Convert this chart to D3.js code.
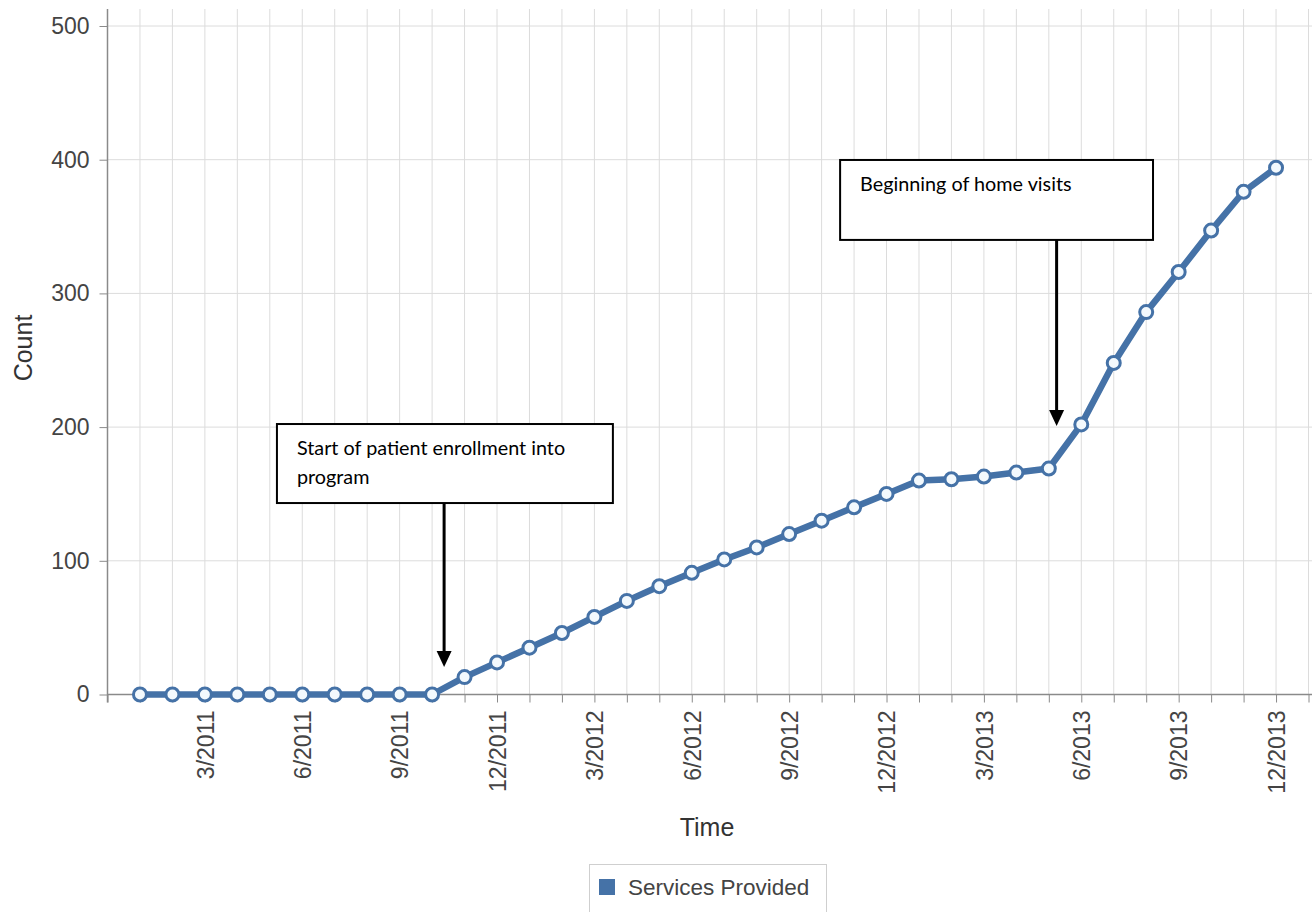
<!DOCTYPE html>
<html>
<head>
<meta charset="utf-8">
<script src="https://cdn.jsdelivr.net/npm/d3@7"></script>
<style>
  html, body { margin: 0; padding: 0; background: #ffffff; }
  svg { display: block; }
</style>
</head>
<body>
<svg id="chart" width="1312" height="912"></svg>
<script>
// Monthly categories, January 2011 through December 2013
const months = [
  "1/2011", "2/2011", "3/2011", "4/2011", "5/2011", "6/2011",
  "7/2011", "8/2011", "9/2011", "10/2011", "11/2011", "12/2011",
  "1/2012", "2/2012", "3/2012", "4/2012", "5/2012", "6/2012",
  "7/2012", "8/2012", "9/2012", "10/2012", "11/2012", "12/2012",
  "1/2013", "2/2013", "3/2013", "4/2013", "5/2013", "6/2013",
  "7/2013", "8/2013", "9/2013", "10/2013", "11/2013", "12/2013"
];

// Cumulative count of services provided per month
const servicesProvided = [
  0, 0, 0, 0, 0, 0, 0, 0, 0, 0, 13, 24,
  35, 46, 58, 70, 81, 91, 101, 110, 120, 130, 140, 150,
  160, 161, 163, 166, 169, 202, 248, 286, 316, 347, 376, 394
];

// Month labels shown on the x axis
const xTickLabels = [
  "3/2011", "6/2011", "9/2011", "12/2011", "3/2012", "6/2012",
  "9/2012", "12/2012", "3/2013", "6/2013", "9/2013", "12/2013"
];

const yTickValues = [0, 100, 200, 300, 400, 500];

// Callouts, anchored in data units (month index, count)
const annotationText = [
  ["Start of patient enrollment into", "program"],
  ["Beginning of home visits"]
];
const annotationArrowMonth = [9.37, 28.24];
const annotationArrowTip = [20.6, 200.8];
const annotationBoxMonths = [[4.22, 14.57], [21.57, 31.21]];
const annotationBoxCounts = [[143.2, 202.3], [340, 399.8]];

const seriesName = "Services Provided";

// ---- layout ----
const W = 1312, H = 912;
const plotTop = 9;
const plotRight = W;
const lineColor = "#4572a7";
const axisColor = "#8a8a8a";
const gridColor = "#dcdcdc";
const labelFont = "'Liberation Sans', Arial, sans-serif";

const svg = d3.select("#chart");

const x = d3.scaleLinear().domain([-1, months.length]).range([107.5, 1308.5]);
const y = d3.scaleLinear().domain([0, 500]).range([694.5, 26]);

const monthIdx = d3.range(-1, months.length + 1);

// gridlines
const grid = svg.append("g").attr("class", "grid");
grid.selectAll("line.v")
  .data(monthIdx.filter(i => i >= 0))
  .join("line")
  .attr("class", "v")
  .attr("x1", d => x(d)).attr("x2", d => x(d))
  .attr("y1", plotTop).attr("y2", y(0))
  .attr("stroke", gridColor).attr("stroke-width", 1);
grid.selectAll("line.h")
  .data(yTickValues.filter(v => v > 0))
  .join("line")
  .attr("class", "h")
  .attr("x1", x(-1)).attr("x2", plotRight)
  .attr("y1", d => y(d)).attr("y2", d => y(d))
  .attr("stroke", gridColor).attr("stroke-width", 1);

// y axis
const yAxis = svg.append("g")
  .attr("transform", `translate(${x(-1)},0)`)
  .call(d3.axisLeft(y).tickValues(yTickValues).tickSize(8).tickPadding(10).tickSizeOuter(0));
yAxis.select(".domain").attr("d", `M0,${plotTop}V${y(0) + 8}`).attr("stroke", axisColor).attr("stroke-width", 1.5);
yAxis.selectAll(".tick line").attr("stroke", axisColor);
yAxis.selectAll(".tick text")
  .attr("font-family", labelFont).attr("font-size", 23).attr("fill", "#444");

// x axis
const labelSet = new Set(xTickLabels);
const xAxis = svg.append("g")
  .attr("transform", `translate(0,${y(0)})`)
  .call(d3.axisBottom(x)
    .tickValues(monthIdx)
    .tickSize(8)
    .tickSizeOuter(0)
    .tickFormat(i => (i >= 0 && i < months.length && labelSet.has(months[i])) ? months[i] : ""));
xAxis.select(".domain").attr("d", `M${x(-1)},0H${plotRight}`).attr("stroke", axisColor).attr("stroke-width", 1.5);
xAxis.selectAll(".tick line").attr("stroke", axisColor);
xAxis.selectAll(".tick text")
  .attr("font-family", labelFont).attr("font-size", 23).attr("fill", "#444")
  .attr("text-anchor", "end")
  .attr("x", 0).attr("y", 0)
  .attr("dy", "0.36em")
  .attr("transform", "translate(0,16) rotate(-90)");

// axis titles
svg.append("text")
  .attr("x", 707).attr("y", 836)
  .attr("text-anchor", "middle")
  .attr("font-family", labelFont).attr("font-size", 25).attr("fill", "#333")
  .text("Time");
svg.append("text")
  .attr("transform", "translate(32,348) rotate(-90)")
  .attr("text-anchor", "middle")
  .attr("font-family", labelFont).attr("font-size", 25).attr("fill", "#333")
  .text("Count");

// series line
const line = d3.line().x((d, i) => x(i)).y(d => y(d));
svg.append("path")
  .datum(servicesProvided)
  .attr("d", line)
  .attr("fill", "none")
  .attr("stroke", lineColor)
  .attr("stroke-width", 6.5)
  .attr("stroke-linejoin", "round");

svg.append("g").selectAll("circle")
  .data(servicesProvided)
  .join("circle")
  .attr("cx", (d, i) => x(i))
  .attr("cy", d => y(d))
  .attr("r", 6.5)
  .attr("fill", "#f3f9fd")
  .attr("stroke", lineColor)
  .attr("stroke-width", 3);

// callouts
const notes = svg.append("g").attr("class", "annotations");
annotationText.forEach((lines, k) => {
  const bx0 = x(annotationBoxMonths[k][0]);
  const bx1 = x(annotationBoxMonths[k][1]);
  const byTop = y(annotationBoxCounts[k][1]);
  const byBot = y(annotationBoxCounts[k][0]);
  const ax = x(annotationArrowMonth[k]);
  const tipY = y(annotationArrowTip[k]);
  const head = 16;

  notes.append("line")
    .attr("x1", ax).attr("x2", ax)
    .attr("y1", byBot).attr("y2", tipY - head + 1)
    .attr("stroke", "#000").attr("stroke-width", 3);
  notes.append("path")
    .attr("d", `M${ax - 7.5},${tipY - head}L${ax + 7.5},${tipY - head}L${ax},${tipY}Z`)
    .attr("fill", "#000");

  notes.append("rect")
    .attr("x", bx0).attr("y", byTop)
    .attr("width", bx1 - bx0).attr("height", byBot - byTop)
    .attr("fill", "#fff").attr("stroke", "#000").attr("stroke-width", 2);

  const t = notes.append("text")
    .attr("font-family", "Lato, 'Open Sans', sans-serif")
    .attr("font-size", 19.8)
    .attr("fill", "#000");
  lines.forEach((s, j) => {
    t.append("tspan").attr("x", bx0 + 20).attr("y", byTop + 31 + j * 29).text(s);
  });
});

// legend
const lg = svg.append("g").attr("class", "legend");
lg.append("rect")
  .attr("x", 589.5).attr("y", 864.5).attr("width", 237).attr("height", 60)
  .attr("fill", "#fff").attr("stroke", "#cfcfcf").attr("stroke-width", 1);
lg.append("rect")
  .attr("x", 599).attr("y", 879).attr("width", 16).attr("height", 16)
  .attr("fill", lineColor);
lg.append("text")
  .attr("x", 628).attr("y", 895)
  .attr("font-family", labelFont).attr("font-size", 22.5).attr("fill", "#444")
  .text(seriesName);
</script>
</body>
</html>
